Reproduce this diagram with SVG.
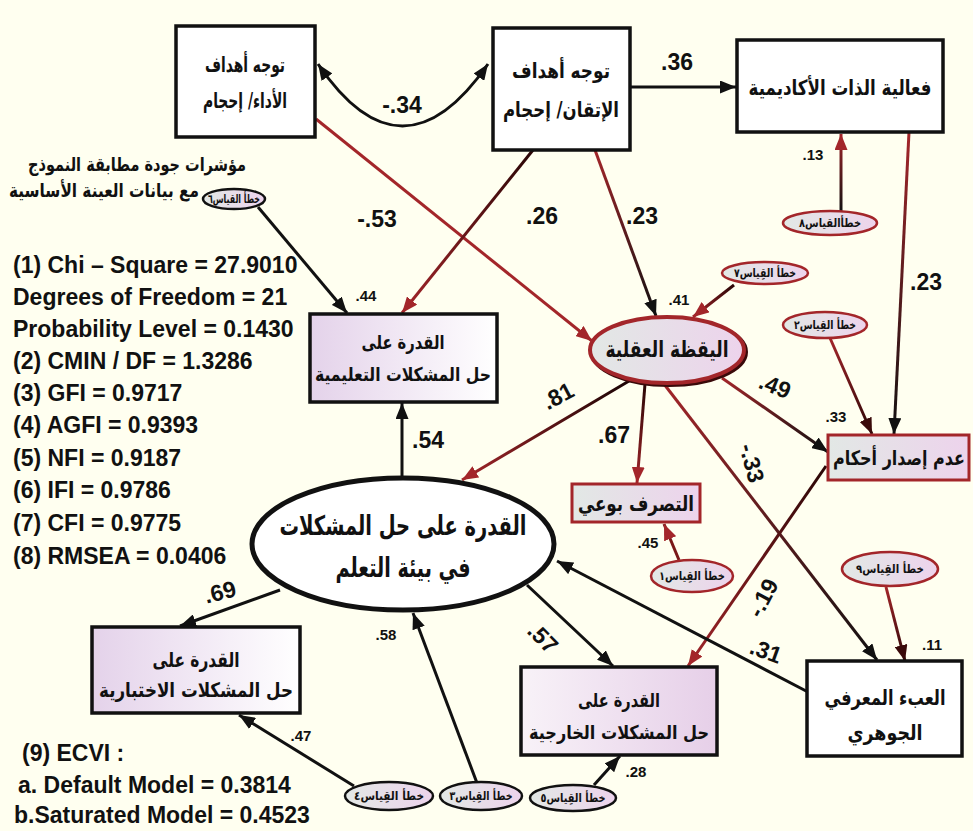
<svg xmlns="http://www.w3.org/2000/svg" width="973" height="831" viewBox="0 0 973 831">
<defs>
<style>
.ar{font-family:"DejaVu Sans",sans-serif;font-weight:bold;fill:#111;text-anchor:middle}
.box{fill:#fff;stroke:#111;stroke-width:3.5}
.boxg{stroke:#111;stroke-width:3.5}
.boxr{stroke:#A3262A;stroke-width:3}
.errb{stroke:#111;stroke-width:2.5;fill:url(#gE)}
.errr{stroke:#A3262A;stroke-width:2.5;fill:url(#gE)}
.et{font-family:"DejaVu Sans",sans-serif;font-weight:bold;font-size:12px;fill:#111;text-anchor:middle}
.lab{font-family:"Liberation Sans",Arial,sans-serif;font-weight:bold;font-size:23px;fill:#111;text-anchor:middle}
.r2{font-family:"Liberation Sans",Arial,sans-serif;font-weight:bold;font-size:15px;fill:#111;text-anchor:middle}
.st{font-family:"Liberation Sans",Arial,sans-serif;font-weight:bold;font-size:23px;fill:#111}
.c{fill:none;stroke-width:3}
.k{stroke:#111}
.red{stroke:#A3262A}
</style>
<linearGradient id="gL" x1="0" y1="0" x2="1" y2="0"><stop offset="0" stop-color="#E4D2EA"/><stop offset="1" stop-color="#FFFFFF"/></linearGradient>
<linearGradient id="gR" x1="0" y1="0" x2="1" y2="0"><stop offset="0" stop-color="#F8F2F8"/><stop offset="1" stop-color="#E6CFE8"/></linearGradient>
<linearGradient id="gE" x1="0" y1="0" x2="1" y2="0"><stop offset="0" stop-color="#E2E8E5"/><stop offset="1" stop-color="#EDD3EC"/></linearGradient>
<linearGradient id="g3" gradientUnits="userSpaceOnUse" x1="909" y1="132" x2="894" y2="435"><stop offset="0" stop-color="#A3262A"/><stop offset="1" stop-color="#111"/></linearGradient>
<linearGradient id="g4" gradientUnits="userSpaceOnUse" x1="841" y1="212" x2="841" y2="133"><stop offset="0" stop-color="#111"/><stop offset="1" stop-color="#A3262A"/></linearGradient>
<linearGradient id="g6" gradientUnits="userSpaceOnUse" x1="533" y1="150" x2="402" y2="313"><stop offset="0" stop-color="#2A0606"/><stop offset="1" stop-color="#A3262A"/></linearGradient>
<linearGradient id="g7" gradientUnits="userSpaceOnUse" x1="595" y1="150" x2="656" y2="316"><stop offset="0" stop-color="#A3262A"/><stop offset="1" stop-color="#111"/></linearGradient>
<linearGradient id="g9" gradientUnits="userSpaceOnUse" x1="734" y1="285" x2="693" y2="317"><stop offset="0" stop-color="#2A0606"/><stop offset="1" stop-color="#A3262A"/></linearGradient>
<linearGradient id="g10" gradientUnits="userSpaceOnUse" x1="830" y1="338" x2="872" y2="435"><stop offset="0" stop-color="#A3262A"/><stop offset="1" stop-color="#2A0606"/></linearGradient>
<linearGradient id="g11" gradientUnits="userSpaceOnUse" x1="722" y1="378" x2="828" y2="452"><stop offset="0" stop-color="#A3262A"/><stop offset="1" stop-color="#111"/></linearGradient>
<linearGradient id="g12" gradientUnits="userSpaceOnUse" x1="645" y1="384" x2="637" y2="484"><stop offset="0" stop-color="#2A0606"/><stop offset="1" stop-color="#A3262A"/></linearGradient>
<linearGradient id="g13" gradientUnits="userSpaceOnUse" x1="629" y1="381" x2="462" y2="480"><stop offset="0" stop-color="#1A0404"/><stop offset="1" stop-color="#A3262A"/></linearGradient>
<linearGradient id="g14" gradientUnits="userSpaceOnUse" x1="664" y1="384" x2="877" y2="661"><stop offset="0" stop-color="#A3262A"/><stop offset="1" stop-color="#111"/></linearGradient>
<linearGradient id="g15" gradientUnits="userSpaceOnUse" x1="826" y1="466" x2="688" y2="667"><stop offset="0" stop-color="#2A0606"/><stop offset="1" stop-color="#A3262A"/></linearGradient>
<linearGradient id="g17" gradientUnits="userSpaceOnUse" x1="886" y1="587" x2="905" y2="662"><stop offset="0" stop-color="#A3262A"/><stop offset="1" stop-color="#2A0606"/></linearGradient>
<marker id="aB" markerUnits="userSpaceOnUse" markerWidth="17" markerHeight="13" refX="16" refY="6.5" orient="auto"><path d="M0,0 L16,6.5 L0,13 z" fill="#111"/></marker>
<marker id="aBs" markerUnits="userSpaceOnUse" markerWidth="17" markerHeight="13" refX="16" refY="6.5" orient="auto-start-reverse"><path d="M0,0 L16,6.5 L0,13 z" fill="#111"/></marker>
<marker id="aR" markerUnits="userSpaceOnUse" markerWidth="17" markerHeight="13" refX="16" refY="6.5" orient="auto"><path d="M0,0 L16,6.5 L0,13 z" fill="#A3262A"/></marker>
<marker id="aD" markerUnits="userSpaceOnUse" markerWidth="17" markerHeight="13" refX="16" refY="6.5" orient="auto"><path d="M0,0 L16,6.5 L0,13 z" fill="#3A0A0A"/></marker>
</defs>
<rect width="973" height="831" fill="#FFFFF0"/>

<g id="connectors">
<path class="c k" d="M318 64 Q402 188 488 64" marker-start="url(#aBs)" marker-end="url(#aB)"/>
<line class="c k" x1="631" y1="87" x2="736" y2="87" marker-end="url(#aB)"/>
<line class="c" stroke="url(#g3)" x1="909" y1="132" x2="894" y2="434" marker-end="url(#aB)"/>
<line class="c" stroke="url(#g4)" x1="841" y1="212" x2="841" y2="134" marker-end="url(#aR)"/>
<line class="c red" x1="316" y1="119" x2="592" y2="341" marker-end="url(#aR)"/>
<line class="c" stroke="url(#g6)" x1="533" y1="150" x2="402" y2="313" marker-end="url(#aR)"/>
<line class="c" stroke="url(#g7)" x1="595" y1="150" x2="656" y2="316" marker-end="url(#aB)"/>
<line class="c k" x1="258" y1="207" x2="347" y2="313" marker-end="url(#aB)"/>
<line class="c" stroke="url(#g9)" x1="734" y1="285" x2="693" y2="317" marker-end="url(#aR)"/>
<line class="c" stroke="url(#g10)" x1="830" y1="338" x2="872" y2="434" marker-end="url(#aD)"/>
<line class="c" stroke="url(#g11)" x1="722" y1="378" x2="828" y2="452" marker-end="url(#aB)"/>
<line class="c" stroke="url(#g12)" x1="645" y1="384" x2="637" y2="483" marker-end="url(#aR)"/>
<line class="c" stroke="url(#g13)" x1="629" y1="381" x2="462" y2="480" marker-end="url(#aR)"/>
<line class="c" stroke="url(#g14)" x1="664" y1="384" x2="877" y2="660" marker-end="url(#aB)"/>
<line class="c" stroke="url(#g15)" x1="826" y1="466" x2="688" y2="666" marker-end="url(#aR)"/>
<line class="c k" x1="808" y1="692" x2="557" y2="561" marker-end="url(#aB)"/>
<line class="c" stroke="url(#g17)" x1="886" y1="587" x2="905" y2="661" marker-end="url(#aD)"/>
<line class="c" stroke="#7A1818" x1="679" y1="560" x2="664" y2="524" marker-end="url(#aR)"/>
<line class="c k" x1="402" y1="478" x2="402" y2="403" marker-end="url(#aB)"/>
<line class="c k" x1="280" y1="590" x2="180" y2="626" marker-end="url(#aB)"/>
<line class="c k" x1="527" y1="585" x2="613" y2="666" marker-end="url(#aB)"/>
<line class="c k" x1="477" y1="783" x2="413" y2="613" marker-end="url(#aB)"/>
<line class="c k" x1="354" y1="786" x2="239" y2="715" marker-end="url(#aB)"/>
<line class="c k" x1="594" y1="785" x2="620" y2="756" marker-end="url(#aB)"/>
</g>

<g id="labels">
<text class="lab" x="402" y="113">-.34</text>
<text class="lab" x="677" y="70">.36</text>
<text class="lab" x="377" y="227">-.53</text>
<text class="lab" x="542" y="224">.26</text>
<text class="lab" x="642" y="224">.23</text>
<text class="lab" x="926" y="290">.23</text>
<text class="lab" x="558" y="404" transform="rotate(-28 558 396)">.81</text>
<text class="lab" x="614" y="443">.67</text>
<text class="lab" x="775" y="394" transform="rotate(22 775 386)">.49</text>
<text class="lab" x="752" y="471" transform="rotate(75 752 463)">-.33</text>
<text class="lab" x="428" y="448">.54</text>
<text class="lab" x="220" y="600" transform="rotate(-15 220 592)">.69</text>
<text class="lab" x="543" y="646" transform="rotate(45 543 638)">.57</text>
<text class="lab" x="763" y="606" transform="rotate(-62 763 598)">-.19</text>
<text class="lab" x="766" y="659" transform="rotate(20 766 651)">.31</text>
<text class="r2" x="366" y="301">.44</text>
<text class="r2" x="679" y="305">.41</text>
<text class="r2" x="813" y="160">.13</text>
<text class="r2" x="836" y="422">.33</text>
<text class="r2" x="648" y="548">.45</text>
<text class="r2" x="932" y="650">.11</text>
<text class="r2" x="386" y="640">.58</text>
<text class="r2" x="301" y="741">.47</text>
<text class="r2" x="636" y="777">.28</text>
</g>

<g id="n-performance">
<rect class="box" x="176" y="26" width="139" height="111"/>
<text class="ar" font-size="21" x="245" y="72" textLength="80" lengthAdjust="spacingAndGlyphs">توجه أهداف</text>
<text class="ar" font-size="21" x="245" y="108" textLength="84" lengthAdjust="spacingAndGlyphs">الأداء/ إحجام</text>
</g>
<g id="n-mastery">
<rect class="box" x="493" y="28" width="137" height="122"/>
<text class="ar" font-size="21" x="561" y="78" textLength="98" lengthAdjust="spacingAndGlyphs">توجه أهداف</text>
<text class="ar" font-size="21" x="561" y="117" textLength="116" lengthAdjust="spacingAndGlyphs">الإتقان/ إحجام</text>
</g>
<g id="n-selfefficacy">
<rect class="box" x="737" y="40" width="206" height="92"/>
<text class="ar" font-size="21" x="840" y="95" textLength="183" lengthAdjust="spacingAndGlyphs">فعالية الذات الأكاديمية</text>
</g>
<g id="n-educational">
<rect class="boxg" fill="url(#gL)" x="310" y="314" width="187" height="88"/>
<text class="ar" font-size="19" x="403" y="349" textLength="83" lengthAdjust="spacingAndGlyphs">القدرة على</text>
<text class="ar" font-size="19" x="403" y="381" textLength="176" lengthAdjust="spacingAndGlyphs">حل المشكلات التعليمية</text>
</g>
<g id="n-mindfulness">
<ellipse cx="669" cy="352" rx="77" ry="33" fill="none" stroke="#3A0A0A" stroke-width="4"/>
<ellipse cx="667" cy="350" rx="77" ry="33" fill="url(#gE)" stroke="#A3262A" stroke-width="4"/>
<text class="ar" font-size="23" x="667" y="357" textLength="123" lengthAdjust="spacingAndGlyphs">اليقظة العقلية</text>
</g>
<g id="n-nonjudging">
<rect class="boxr" fill="url(#gE)" x="828" y="435" width="141" height="45"/>
<text class="ar" font-size="20" x="899" y="465" textLength="132" lengthAdjust="spacingAndGlyphs">عدم إصدار أحكام</text>
</g>
<g id="n-acting">
<rect class="boxr" fill="url(#gE)" x="572" y="484" width="128" height="38"/>
<text class="ar" font-size="21" x="636" y="511" textLength="116" lengthAdjust="spacingAndGlyphs">التصرف بوعي</text>
</g>
<g id="n-problemsolving">
<ellipse cx="403" cy="544" rx="151" ry="66" fill="#fff" stroke="#111" stroke-width="5"/>
<text class="ar" font-size="27" x="403" y="535" textLength="247" lengthAdjust="spacingAndGlyphs">القدرة على حل المشكلات</text>
<text class="ar" font-size="27" x="403" y="577" textLength="135" lengthAdjust="spacingAndGlyphs">في بيئة التعلم</text>
</g>
<g id="n-test">
<rect class="boxg" fill="url(#gL)" x="92" y="627" width="208" height="86"/>
<text class="ar" font-size="20" x="196" y="667" textLength="87" lengthAdjust="spacingAndGlyphs">القدرة على</text>
<text class="ar" font-size="20" x="196" y="697" textLength="194" lengthAdjust="spacingAndGlyphs">حل المشكلات الاختبارية</text>
</g>
<g id="n-external">
<rect class="boxg" fill="url(#gR)" x="521" y="667" width="196" height="88"/>
<text class="ar" font-size="19" x="619" y="707" textLength="82" lengthAdjust="spacingAndGlyphs">القدرة على</text>
<text class="ar" font-size="19" x="619" y="739" textLength="180" lengthAdjust="spacingAndGlyphs">حل المشكلات الخارجية</text>
</g>
<g id="n-cognitive">
<rect class="box" x="807" y="661" width="155" height="95"/>
<text class="ar" font-size="21" x="885" y="705" textLength="121" lengthAdjust="spacingAndGlyphs">العبء المعرفي</text>
<text class="ar" font-size="21" x="885" y="740" textLength="75" lengthAdjust="spacingAndGlyphs">الجوهري</text>
</g>

<g id="e6"><ellipse class="errb" cx="234" cy="199" rx="31" ry="10"/><text class="et" font-size="11" x="234" y="203" textLength="52" lengthAdjust="spacingAndGlyphs">خطأ القياس٦</text></g>
<g id="e7"><ellipse class="errr" cx="765" cy="273" rx="43" ry="11"/><text class="et" x="765" y="277" textLength="62" lengthAdjust="spacingAndGlyphs">خطأ القِياس٧</text></g>
<g id="e8"><ellipse class="errr" cx="830" cy="223" rx="47" ry="12"/><text class="et" x="830" y="227" textLength="62" lengthAdjust="spacingAndGlyphs">خطأالقياس٨</text></g>
<g id="e2"><ellipse class="errr" cx="825" cy="325" rx="42" ry="13"/><text class="et" x="825" y="329" textLength="62" lengthAdjust="spacingAndGlyphs">خطأ القِياس٢</text></g>
<g id="e1"><ellipse class="errr" cx="692" cy="576" rx="41" ry="16"/><text class="et" x="692" y="580" textLength="66" lengthAdjust="spacingAndGlyphs">خطأ القِياس١</text></g>
<g id="e9"><ellipse class="errr" cx="890" cy="569" rx="48" ry="17"/><text class="et" x="890" y="573" textLength="68" lengthAdjust="spacingAndGlyphs">خطأ القِياس٩</text></g>
<g id="e4"><ellipse class="errb" cx="389" cy="796" rx="44" ry="14"/><text class="et" x="389" y="800" textLength="70" lengthAdjust="spacingAndGlyphs">خطأ القِياس٤</text></g>
<g id="e3"><ellipse class="errb" cx="481" cy="796" rx="41" ry="14"/><text class="et" x="481" y="800" textLength="63" lengthAdjust="spacingAndGlyphs">خطأ القِياس٣</text></g>
<g id="e5"><ellipse class="errb" cx="573" cy="798" rx="43" ry="13"/><text class="et" x="573" y="802" textLength="65" lengthAdjust="spacingAndGlyphs">خطأ القِياس٥</text></g>

<g id="title">
<text class="ar" font-size="19" fill="#222" x="137" y="171" textLength="218" lengthAdjust="spacingAndGlyphs">مؤشرات جودة مطابقة النموذج</text>
<text class="ar" font-size="19" fill="#222" x="104" y="197" textLength="190" lengthAdjust="spacingAndGlyphs">مع بيانات العينة الأساسية</text>
</g>
<g id="stats">
<text class="st" x="13" y="273">(1) Chi – Square = 27.9010</text>
<text class="st" x="13" y="305">Degrees of Freedom = 21</text>
<text class="st" x="13" y="337">Probability Level = 0.1430</text>
<text class="st" x="13" y="369">(2) CMIN / DF = 1.3286</text>
<text class="st" x="13" y="401">(3) GFI = 0.9717</text>
<text class="st" x="13" y="433">(4) AGFI = 0.9393</text>
<text class="st" x="13" y="466">(5) NFI = 0.9187</text>
<text class="st" x="13" y="498">(6) IFI = 0.9786</text>
<text class="st" x="13" y="531">(7) CFI = 0.9775</text>
<text class="st" x="13" y="564">(8) RMSEA = 0.0406</text>
<text class="st" x="22" y="761">(9) ECVI :</text>
<text class="st" x="18" y="793">a. Default Model = 0.3814</text>
<text class="st" x="14" y="823">b.Saturated Model = 0.4523</text>
</g>
</svg>
